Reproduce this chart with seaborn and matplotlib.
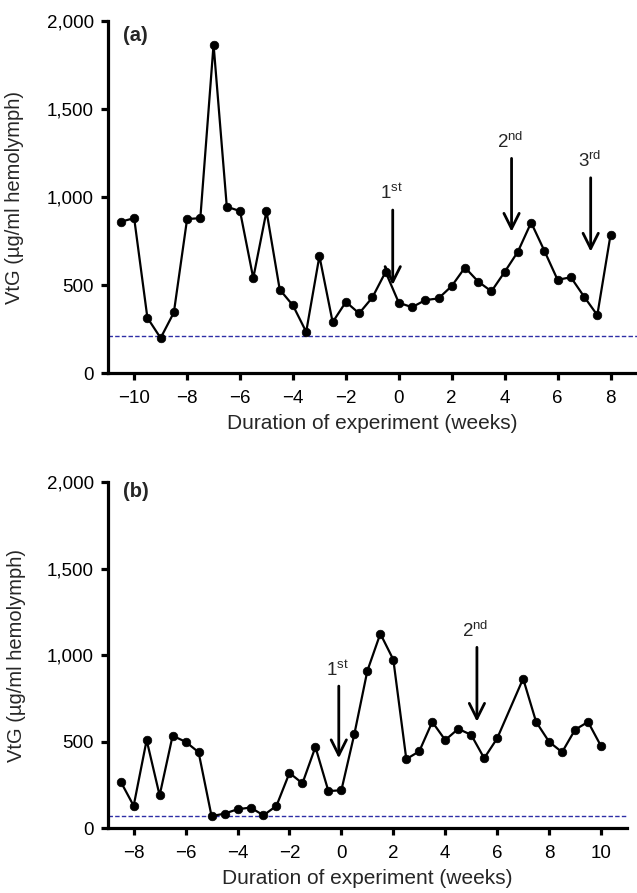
import numpy as np
import matplotlib
matplotlib.use("Agg")
import matplotlib.pyplot as plt
import seaborn as sns

# ---------------- data ----------------
weeks_a = [-10.5, -10.0, -9.5, -9.0, -8.5, -8.0, -7.5, -7.0, -6.5, -6.0, -5.5, -5.0,
           -4.5, -4.0, -3.5, -3.0, -2.5, -2.0, -1.5, -1.0, -0.5, 0.0, 0.5, 1.0,
           1.5, 2.0, 2.5, 3.0, 3.5, 4.0, 4.5, 5.0, 5.5, 6.0, 6.5, 7.0, 7.5, 8.0]
vtg_a = [860, 880, 315, 200, 345, 875, 880, 1865, 945, 920, 540, 920,
         475, 385, 235, 665, 290, 405, 340, 430, 575, 400, 375, 415,
         425, 495, 600, 520, 465, 575, 690, 855, 695, 530, 545, 435, 330, 785]
baseline_a = 210

weeks_b = [-8.5, -8.0, -7.5, -7.0, -6.5, -6.0, -5.5, -5.0, -4.5, -4.0, -3.5, -3.0,
           -2.5, -2.0, -1.5, -1.0, -0.5, 0.0, 0.5, 1.0, 1.5, 2.0, 2.5, 3.0,
           3.5, 4.0, 4.5, 5.0, 5.5, 6.0, 7.0, 7.5, 8.0, 8.5, 9.0, 9.5, 10.0]
vtg_b = [270, 130, 510, 190, 535, 500, 440, 70, 85, 110, 120, 75,
         130, 320, 260, 470, 215, 220, 545, 910, 1125, 975, 400, 445,
         615, 510, 575, 540, 405, 520, 865, 615, 500, 440, 570, 615, 475]
baseline_b = 73

# injections: (number, suffix, week, arrow tip value, arrow top value)
arrows_a = [("1", "st", -0.23, 501, 926), ("2", "nd", 4.26, 803, 1219), ("3", "rd", 7.25, 690, 1109)]
arrows_b = [("1", "st", -0.10, 405, 822), ("2", "nd", 5.22, 616, 1046)]

yticks = [0, 500, 1000, 1500, 2000]
ytick_labels = ["0", "500", "1,000", "1,500", "2,000"]
xticks_a = [-10, -8, -6, -4, -2, 0, 2, 4, 6, 8]
xticks_b = [-8, -6, -4, -2, 0, 2, 4, 6, 8, 10]

xlabel = "Duration of experiment (weeks)"
ylabel = "VtG (\u00b5g/ml hemolymph)"

# ---------------- style ----------------
sns.set_style("ticks")
plt.rcParams["font.family"] = ["Liberation Sans", "DejaVu Sans"]
plt.rcParams["mathtext.fontset"] = "custom"
plt.rcParams["mathtext.rm"] = "Liberation Sans"
plt.rcParams["mathtext.it"] = "Liberation Sans:italic"
plt.rcParams["mathtext.bf"] = "Liberation Sans:bold"

W, H = 637, 893
fig = plt.figure(figsize=(W / 100, H / 100), dpi=100)

ax_a = fig.add_axes([107.7 / W, 1 - 373.3 / H, 529.3 / W, 352.6 / H])
ax_b = fig.add_axes([107.7 / W, 1 - 828.3 / H, 519.3 / W, 346.0 / H])

blue = "#2e2ea6"


def draw(ax, weeks, vals, base, arrows, xticks, xlim, tag, tagpos):
    ax.axhline(base, color=blue, lw=1.0, ls=(0, (3.2, 1.6)), zorder=1)
    sns.lineplot(x=weeks, y=vals, ax=ax, color="black", lw=1.6, marker="o",
                 markersize=6.2, markeredgecolor="black", markeredgewidth=0.5,
                 zorder=3)
    ax.set_xlim(*xlim)
    ax.set_ylim(0, 2000)
    ax.set_yticks(yticks)
    ax.set_yticklabels(ytick_labels)
    ax.set_xticks(xticks)
    ax.set_xticklabels([str(t).replace("-", "\u2212") for t in xticks])
    for s in ["top", "right"]:
        ax.spines[s].set_visible(False)
    for s in ["left", "bottom"]:
        ax.spines[s].set_linewidth(2.3)
        ax.spines[s].set_color("black")
    ax.tick_params(axis="both", direction="out", length=5, width=2.3,
                   colors="black", labelsize=13.5, pad=5)
    ax.tick_params(axis="x", pad=7)
    ax.set_xlabel(xlabel, fontsize=15, labelpad=5)
    ax.set_ylabel(ylabel, fontsize=14.5)
    ax.yaxis.set_label_coords(-0.158, 0.5)
    ax.grid(False)
    for num, sup, x, tip, top in arrows:
        ax.annotate("", xy=(x, tip), xytext=(x, top),
                    arrowprops=dict(arrowstyle="->, head_length=1.1, head_width=0.55",
                                    mutation_scale=10, lw=2.0, color="black",
                                    shrinkA=0, shrinkB=0), zorder=4)
        ax.text(x - 0.05, top + 38, num + r"$^{\mathrm{" + sup + "}}$",
                ha="center", va="bottom", fontsize=13.5)
    ax.text(tagpos[0], tagpos[1], tag, ha="center", va="center",
            fontsize=14.5, fontweight="bold")


draw(ax_a, weeks_a, vtg_a, baseline_a, arrows_a, xticks_a, (-11, 9), "(a)", (-9.94, 1918))
draw(ax_b, weeks_b, vtg_b, baseline_b, arrows_b, xticks_b, (-9, 11), "(b)", (-7.9, 1946))

fig.savefig("out.png", dpi=100)
